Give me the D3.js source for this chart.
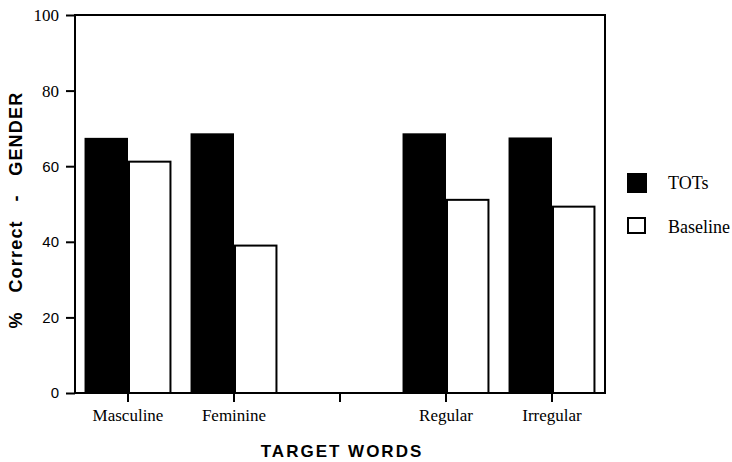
<!DOCTYPE html>
<html lang="en">
<head>
  <meta charset="UTF-8">
  <title>TOTs vs Baseline</title>
  <script src="https://cdn.jsdelivr.net/npm/d3@7"></script>
  <style>
    body { margin: 0; background: #fff; }
    svg { display: block; }
  </style>
</head>
<body>
  <svg width="732" height="462"></svg>
  <script>
    // data
    var categories = ["Masculine", "Feminine", "", "Regular", "Irregular"];
    var tots = [67.5, 68.7, null, 68.7, 67.6];
    var baseline = [61.2, 39.0, null, 51.1, 49.3];
    var yTicks = [0, 20, 40, 60, 80, 100];
    var seriesNames = ["TOTs", "Baseline"];

    var svg = d3.select("svg"),
        margin = { top: 15, right: 127, bottom: 69, left: 75 },
        width = +svg.attr("width") - margin.left - margin.right,
        height = +svg.attr("height") - margin.top - margin.bottom,
        g = svg.append("g").attr("transform", "translate(" + margin.left + "," + margin.top + ")");

    var x0 = d3.scaleBand()
        .domain(categories)
        .range([0, width])
        .paddingInner(0.18)
        .paddingOuter(0.09);

    var x1 = d3.scaleBand()
        .domain(seriesNames)
        .range([0, x0.bandwidth()]);

    var y = d3.scaleLinear()
        .domain([0, 100])
        .range([height, 0]);

    var fill = d3.scaleOrdinal().domain(seriesNames).range(["#000", "#fff"]);

    var rows = categories.map(function (c, i) {
      return { cat: c, values: [{ key: "TOTs", value: tots[i] }, { key: "Baseline", value: baseline[i] }] };
    }).filter(function (d) { return d.values[0].value != null; });

    // bars
    g.append("g")
      .selectAll("g")
      .data(rows)
      .enter().append("g")
        .attr("transform", function (d) { return "translate(" + x0(d.cat) + ",0)"; })
      .selectAll("rect")
      .data(function (d) { return d.values; })
      .enter().append("rect")
        .attr("x", function (d) { return x1(d.key) + (d.key === "Baseline" ? 1 : 0); })
        .attr("y", function (d) { return y(d.value); })
        .attr("width", function (d) { return x1.bandwidth() - (d.key === "Baseline" ? 2 : 0); })
        .attr("height", function (d) { return height - y(d.value); })
        .attr("fill", function (d) { return fill(d.key); })
        .attr("stroke", function (d) { return d.key === "Baseline" ? "#000" : "none"; })
        .attr("stroke-width", 2);

    // frame
    g.append("rect")
      .attr("x", 0).attr("y", 0)
      .attr("width", width).attr("height", height)
      .attr("fill", "none")
      .attr("stroke", "#000")
      .attr("stroke-width", 2);

    // y axis
    var yAxis = g.append("g")
      .call(d3.axisLeft(y).tickValues(yTicks).tickSize(9).tickPadding(7));
    yAxis.select(".domain").remove();
    yAxis.selectAll(".tick line").attr("stroke-width", 2);
    yAxis.selectAll(".tick text")
      .attr("font-size", function (d) { return d >= 80 ? 17 : 15; })
      .attr("font-family", function (d) { return d >= 80 ? "'Liberation Serif', serif" : "'Liberation Sans', Arial, sans-serif"; })
      .attr("fill", "#000");

    // x axis
    var xAxis = g.append("g")
      .attr("transform", "translate(0," + height + ")")
      .call(d3.axisBottom(x0).tickSize(9).tickPadding(7));
    xAxis.select(".domain").remove();
    xAxis.selectAll(".tick line").attr("stroke-width", 2);
    xAxis.selectAll(".tick text")
      .attr("font-size", 17)
      .attr("font-family", "'Liberation Serif', 'Times New Roman', serif")
      .attr("fill", "#000");

    // axis titles
    svg.append("text")
      .attr("transform", "translate(22,210) rotate(-90)")
      .attr("text-anchor", "middle")
      .attr("font-family", "'Liberation Sans', Arial, sans-serif")
      .attr("font-weight", "bold")
      .attr("font-size", 18)
      .attr("letter-spacing", 1.2)
      .style("white-space", "pre")
      .text("%   Correct   -   GENDER");

    svg.append("text")
      .attr("x", margin.left + width / 2 + 2)
      .attr("y", 457)
      .attr("text-anchor", "middle")
      .attr("font-family", "'Liberation Sans', Arial, sans-serif")
      .attr("font-weight", "bold")
      .attr("font-size", 17)
      .attr("letter-spacing", 2)
      .text("TARGET WORDS");

    // legend
    var legend = svg.append("g")
      .selectAll("g")
      .data(seriesNames)
      .enter().append("g")
        .attr("transform", function (d, i) { return "translate(627," + (173 + i * 44) + ")"; });

    legend.append("rect")
      .attr("x", function (d, i) { return i ? 1 : 0; })
      .attr("y", function (d, i) { return i ? 1 : 0; })
      .attr("width", function (d, i) { return i ? 17 : 20; })
      .attr("height", function (d, i) { return i ? 15 : 20; })
      .attr("fill", fill)
      .attr("stroke", "#000")
      .attr("stroke-width", function (d, i) { return i ? 2 : 0; });

    legend.append("text")
      .attr("x", 41)
      .attr("y", function (d, i) { return i ? 16 : 16; })
      .attr("font-family", "'Liberation Serif', 'Times New Roman', serif")
      .attr("font-size", 18)
      .text(function (d) { return d; });
  </script>
</body>
</html>
